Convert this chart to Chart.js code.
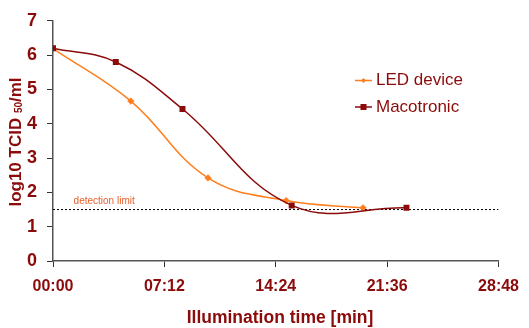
<!DOCTYPE html>
<html><head><meta charset="utf-8">
<script src="https://cdn.jsdelivr.net/npm/chart.js@4"></script>
<style>html,body{margin:0;padding:0;background:#fff}#wrap{width:529px;height:328px}</style>
</head><body><div id="wrap"><canvas id="c" width="529" height="328"></canvas></div>
<script>
// time in minutes
const ledTimes = [0, 5.03, 10.02, 15.07, 20.04];
const ledValues = [6.19, 4.66, 2.42, 1.76, 1.55];
const macoTimes = [0, 4.06, 8.37, 15.43, 22.85];
const macoValues = [6.2, 5.80, 4.43, 1.62, 1.55];
const detectionLimit = 1.5;
const xTickValues = [0, 7.2, 14.4, 21.6, 28.8];
const yTickValues = [0, 1, 2, 3, 4, 5, 6, 7];
const seriesNames = ['LED device', 'Macotronic'];

const TXT = '#8b0a0a';
const ORANGE = '#ff7f1e';
const MAROON = '#8b0a0a';

function fmt(v){
  const totalSec = Math.round(v*60);
  const m = Math.floor(totalSec/60), s = totalSec%60;
  return String(m).padStart(2,'0')+':'+String(s).padStart(2,'0');
}

const pts = (xs, ys) => xs.map((x,i)=>({x, y: ys[i]}));

const extras = {
  id: 'extras',
  afterDatasetsDraw(chart){
    const ctx = chart.ctx;
    const xs = chart.scales.x, ys = chart.scales.y;
    ctx.save();
    // detection limit label
    ctx.fillStyle = '#e8602c';
    ctx.font = '10px "Liberation Sans", Arial, sans-serif';
    ctx.textBaseline = 'alphabetic';
    ctx.textAlign = 'left';
    ctx.fillText('detection limit', xs.getPixelForValue(1.33), ys.getPixelForValue(detectionLimit) - 6);
    // legend
    const items = [
      {name: seriesNames[0], color: ORANGE, shape: 'diamond', y: 80.5},
      {name: seriesNames[1], color: MAROON, shape: 'square', y: 107}
    ];
    items.forEach(it=>{
      ctx.strokeStyle = it.color; ctx.lineWidth = 1.5;
      ctx.beginPath(); ctx.moveTo(355, it.y); ctx.lineTo(372, it.y); ctx.stroke();
      ctx.fillStyle = it.color;
      if (it.shape === 'square') ctx.fillRect(360.5, it.y-3, 6, 6);
      else { ctx.beginPath(); ctx.moveTo(363.5, it.y-2.5); ctx.lineTo(366, it.y); ctx.lineTo(363.5, it.y+2.5); ctx.lineTo(361, it.y); ctx.closePath(); ctx.fill(); }
      ctx.fillStyle = TXT;
      ctx.font = '17px "Liberation Sans", Arial, sans-serif';
      ctx.textBaseline = 'middle';
      ctx.fillText(it.name, 376, it.y);
    });
    // x title
    ctx.font = 'bold 17.5px "Liberation Sans", Arial, sans-serif';
    ctx.textAlign = 'center'; ctx.textBaseline = 'middle';
    ctx.fillText('Illumination time [min]', 280, 318);
    // y title with subscript
    ctx.translate(16, 142);
    ctx.rotate(-Math.PI/2);
    const f1 = 'bold 17px "Liberation Sans", Arial, sans-serif';
    const f2 = 'bold 10px "Liberation Sans", Arial, sans-serif';
    const parts = [['log10 TCID ', f1, 0], ['50', f2, 3], ['/ml', f1, 0]];
    let total = 0;
    parts.forEach(p=>{ ctx.font = p[1]; total += ctx.measureText(p[0]).width; });
    let x = -total/2;
    ctx.textAlign = 'left'; ctx.textBaseline = 'middle';
    parts.forEach(p=>{ ctx.font = p[1]; ctx.fillText(p[0], x, p[2]); x += ctx.measureText(p[0]).width; });
    ctx.restore();
  }
};

new Chart(document.getElementById('c'), {
  type: 'scatter',
  data: {
    datasets: [
      { label: seriesNames[1], data: pts(macoTimes, macoValues), showLine: true, tension: 0.4,
        borderColor: MAROON, backgroundColor: MAROON, borderWidth: 1.5,
        pointStyle: 'rect', pointRadius: 4.2, pointBorderWidth: 0, order: 0 },
      { label: seriesNames[0], data: pts(ledTimes, ledValues), showLine: true, tension: 0.4,
        borderColor: ORANGE, backgroundColor: ORANGE, borderWidth: 1.5,
        pointStyle: 'rectRot', pointRadius: 3.6, pointBorderWidth: 0, order: 1 },
      { label: 'limit', data: [{x: xTickValues[0], y: detectionLimit}, {x: xTickValues[xTickValues.length-1], y: detectionLimit}],
        showLine: true, borderColor: '#000', borderWidth: 1, borderDash: [2, 2], pointRadius: 0, order: 2 }
    ]
  },
  options: {
    responsive: false, animation: false,
    layout: { padding: { top: 19, right: 22, left: 0, bottom: 0 } },
    plugins: { legend: { display: false }, tooltip: { enabled: false } },
    scales: {
      x: {
        type: 'linear', min: 0, max: 28.8,
        afterBuildTicks: s => { s.ticks = xTickValues.map(v=>({value: v})); },
        afterFit: s => { s.height = 67; },
        ticks: { callback: v => fmt(v), color: TXT, font: { family: '"Liberation Sans", Arial, sans-serif', size: 16, weight: 'bold' }, padding: 10, maxRotation: 0 },
        grid: { drawOnChartArea: false, drawTicks: true, tickLength: 6, color: '#333', lineWidth: 1 },
        border: { color: '#555', width: 1.5 }
      },
      y: {
        min: 0, max: 7,
        afterBuildTicks: s => { s.ticks = yTickValues.map(v=>({value: v})); },
        afterFit: s => { s.width = 53; },
        ticks: { color: TXT, font: { family: '"Liberation Sans", Arial, sans-serif', size: 18, weight: 'bold' }, padding: 10 },
        grid: { drawOnChartArea: false, drawTicks: true, tickLength: 6, color: '#333', lineWidth: 1 },
        border: { color: '#555', width: 1.5 }
      }
    }
  },
  plugins: [extras]
});
</script></body></html>
